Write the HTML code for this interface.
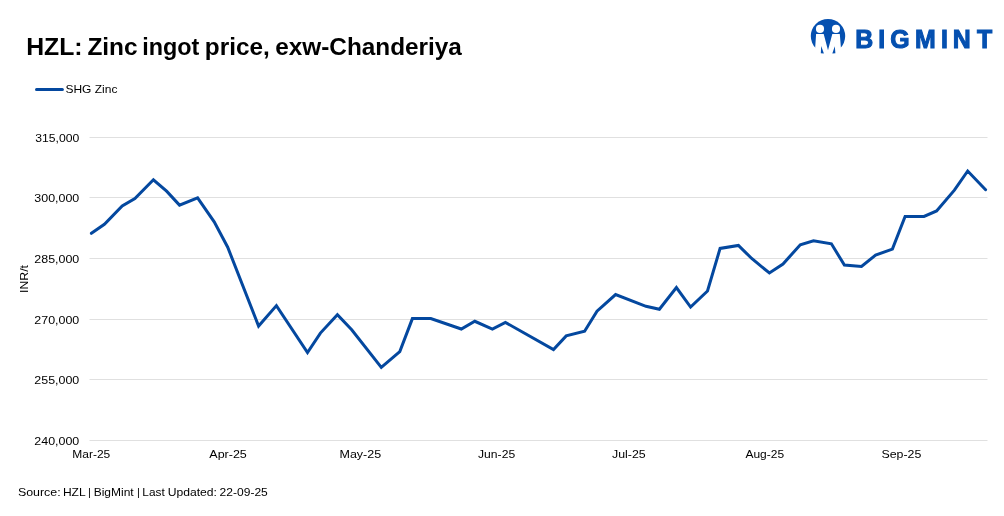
<!DOCTYPE html>
<html><head><meta charset="utf-8"><title>HZL: Zinc ingot price, exw-Chanderiya</title>
<style>
html,body{margin:0;padding:0;background:#fff;}
body{width:1004px;height:516px;overflow:hidden;position:relative;font-family:"Liberation Sans",Arial,sans-serif;}
svg{position:absolute;left:0;top:0;will-change:transform;}
.ax{font-family:"Liberation Sans",Arial,sans-serif;font-size:12px;fill:#000000;}
.title{font-family:"Liberation Sans",Arial,sans-serif;font-size:24px;font-weight:bold;fill:#000;}
.leg{font-family:"Liberation Sans",Arial,sans-serif;font-size:11px;fill:#000000;}
.src{font-family:"Liberation Sans",Arial,sans-serif;font-size:11px;fill:#000000;}
.logo{font-family:"Liberation Sans",Arial,sans-serif;font-size:24.9px;font-weight:bold;fill:#0550b0;stroke:#0550b0;stroke-width:1.0px;}
</style></head>
<body>
<svg width="1004" height="516" viewBox="0 0 1004 516">
<text y="54.8" class="title"><tspan x="26.2" textLength="56.4" lengthAdjust="spacingAndGlyphs">HZL:</tspan> <tspan x="87.4" textLength="50.2" lengthAdjust="spacingAndGlyphs">Zinc</tspan> <tspan x="142.3" textLength="57.1" lengthAdjust="spacingAndGlyphs">ingot</tspan> <tspan x="204.8" textLength="65" lengthAdjust="spacingAndGlyphs">price,</tspan> <tspan x="275.2" textLength="186.7" lengthAdjust="spacingAndGlyphs">exw-Chanderiya</tspan></text>
<line x1="36.5" y1="89.4" x2="62.4" y2="89.4" stroke="#04489f" stroke-width="3" stroke-linecap="round"/>
<text x="65.4" y="92.7" class="leg" textLength="52" lengthAdjust="spacingAndGlyphs">SHG Zinc</text>
<g id="logo">
<circle cx="828" cy="36.1" r="17.2" fill="#0550b0"/>
<circle cx="820" cy="28.9" r="4.05" fill="#fff"/>
<circle cx="836" cy="28.9" r="4.05" fill="#fff"/>
<path d="M816.1,34 L823.7,34 L828,50.3 L832.3,34 L839.8,34 L841.6,56 L814.6,56 Z" fill="#fff"/>
<path d="M821.2,46 L823.9,53.5 L820.8,53.2 Z M834.8,46.3 L835.4,53.3 L832.3,53.5 Z" fill="#0550b0"/>
</g>
<text x="864.35 881.75 900.05 925.45 944.5 961.65 984.6" y="48.25" text-anchor="middle" class="logo">BIGMINT</text>
<line x1="89.5" y1="137.50" x2="987.5" y2="137.50" stroke="#e0e0e0" stroke-width="1"/>
<text x="79.3" y="142.10" text-anchor="end" class="ax" style="font-size:11.5px" textLength="44" lengthAdjust="spacingAndGlyphs">315,000</text>
<line x1="89.5" y1="197.50" x2="987.5" y2="197.50" stroke="#e0e0e0" stroke-width="1"/>
<text x="79.3" y="202.10" text-anchor="end" class="ax" style="font-size:11.5px" textLength="45" lengthAdjust="spacingAndGlyphs">300,000</text>
<line x1="89.5" y1="258.50" x2="987.5" y2="258.50" stroke="#e0e0e0" stroke-width="1"/>
<text x="79.3" y="263.10" text-anchor="end" class="ax" style="font-size:11.5px" textLength="45" lengthAdjust="spacingAndGlyphs">285,000</text>
<line x1="89.5" y1="319.50" x2="987.5" y2="319.50" stroke="#e0e0e0" stroke-width="1"/>
<text x="79.3" y="324.10" text-anchor="end" class="ax" style="font-size:11.5px" textLength="45" lengthAdjust="spacingAndGlyphs">270,000</text>
<line x1="89.5" y1="379.50" x2="987.5" y2="379.50" stroke="#e0e0e0" stroke-width="1"/>
<text x="79.3" y="384.10" text-anchor="end" class="ax" style="font-size:11.5px" textLength="45" lengthAdjust="spacingAndGlyphs">255,000</text>
<line x1="89.5" y1="440.50" x2="987.5" y2="440.50" stroke="#e0e0e0" stroke-width="1"/>
<text x="79.3" y="445.10" text-anchor="end" class="ax" style="font-size:11.5px" textLength="45" lengthAdjust="spacingAndGlyphs">240,000</text>
<text x="91.30" y="458" text-anchor="middle" class="ax" style="font-size:11.4px" textLength="38.0" lengthAdjust="spacingAndGlyphs">Mar-25</text>
<text x="228.05" y="458" text-anchor="middle" class="ax" style="font-size:11.4px" textLength="37.5" lengthAdjust="spacingAndGlyphs">Apr-25</text>
<text x="360.35" y="458" text-anchor="middle" class="ax" style="font-size:11.4px" textLength="41.7" lengthAdjust="spacingAndGlyphs">May-25</text>
<text x="496.60" y="458" text-anchor="middle" class="ax" style="font-size:11.4px" textLength="37.1" lengthAdjust="spacingAndGlyphs">Jun-25</text>
<text x="628.90" y="458" text-anchor="middle" class="ax" style="font-size:11.4px" textLength="33.7" lengthAdjust="spacingAndGlyphs">Jul-25</text>
<text x="764.75" y="458" text-anchor="middle" class="ax" style="font-size:11.4px" textLength="38.6" lengthAdjust="spacingAndGlyphs">Aug-25</text>
<text x="901.40" y="458" text-anchor="middle" class="ax" style="font-size:11.4px" textLength="39.9" lengthAdjust="spacingAndGlyphs">Sep-25</text>
<text transform="translate(28.3,279) rotate(-90)" text-anchor="middle" class="ax" style="font-size:11.6px" textLength="28" lengthAdjust="spacingAndGlyphs">INR/t</text>
<path d="M91.4,233.3 L104.4,224.3 L122.2,206.0 L134.9,198.5 L153.4,179.8 L166.6,191.2 L179.5,205.1 L197.6,197.8 L214.2,221.9 L227.7,247.2 L258.6,326.1 L276.4,305.6 L307.5,352.5 L320.4,333.1 L337.4,314.8 L351.7,329.8 L381.3,367.4 L399.8,351.6 L412.4,318.6 L430.8,318.6 L461.3,329.0 L474.8,321.3 L492.4,329.2 L505.4,322.4 L553.5,349.5 L566.2,335.9 L584.6,331.3 L597.0,311.2 L615.6,294.6 L646.0,306.3 L659.4,309.3 L676.4,287.6 L690.6,307.1 L707.5,291.0 L720.1,248.4 L738.4,245.4 L751.7,258.5 L769.4,273.0 L783.0,264.0 L800.3,244.7 L813.5,240.8 L831.4,243.8 L844.4,265.1 L861.5,266.5 L875.6,255.1 L892.4,249.1 L905.1,216.5 L924.0,216.4 L936.6,211.0 L954.4,190.2 L967.7,171.0 L985.6,189.7" fill="none" stroke="#04489f" stroke-width="3" stroke-linejoin="miter" stroke-linecap="round"/>
<text y="495.6" class="src"><tspan x="17.9" textLength="42.8" lengthAdjust="spacingAndGlyphs">Source:</tspan> <tspan x="62.9" textLength="22.3" lengthAdjust="spacingAndGlyphs">HZL</tspan> <tspan x="88.1" textLength="2.86" lengthAdjust="spacingAndGlyphs">|</tspan> <tspan x="93.7" textLength="40.0" lengthAdjust="spacingAndGlyphs">BigMint</tspan> <tspan x="137.0" textLength="2.86" lengthAdjust="spacingAndGlyphs">|</tspan> <tspan x="142.3" textLength="22.4" lengthAdjust="spacingAndGlyphs">Last</tspan> <tspan x="167.7" textLength="49.3" lengthAdjust="spacingAndGlyphs">Updated:</tspan> <tspan x="219.6" textLength="48.2" lengthAdjust="spacingAndGlyphs">22-09-25</tspan></text>
</svg>
</body></html>
